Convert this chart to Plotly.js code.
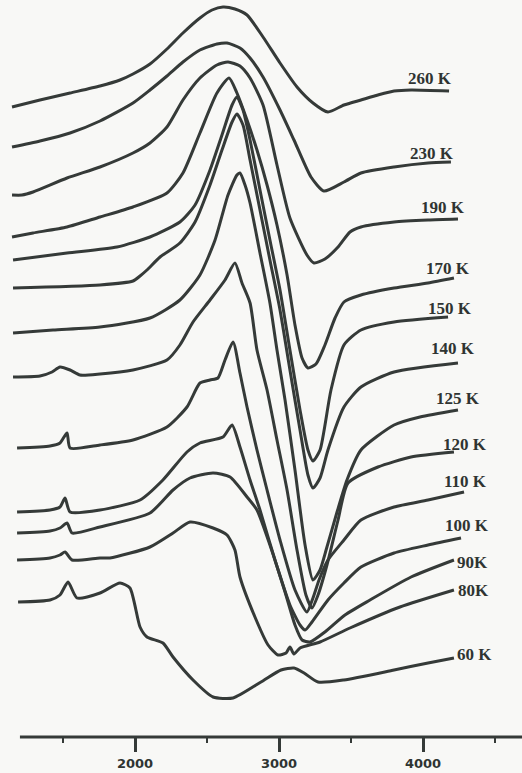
<!DOCTYPE html>
<html>
<head>
<meta charset="utf-8">
<script src="https://cdn.plot.ly/plotly-3.0.1.min.js"></script>
<style>
  html, body { margin: 0; padding: 0; background: #f8f8f6; }
  #chart { width: 522px; height: 773px; }
</style>
</head>
<body>
<div id="chart"></div>
<script>
// Magnetic field (G) and EPR signal (a.u., vertically offset)
const temps = ["260 K", "230 K", "190 K", "170 K", "150 K", "140 K", "125 K", "120 K", "110 K", "100 K", "90K", "80K", "60 K"];

const B260 = [1146,1340,1549,1757,1896,1986,2104,2222,2333,2451,2535,2611,2694,2778,2889,3007,3125,3236,3340,3451,3569,3687,3799,3917,4181];
const S260 = [630,637,644,651,657,663,673,688,704,719,727,730,728,722,700,674,650,634,625,632,637,642,646,647,646];

const B230 = [1146,1340,1549,1757,1986,2104,2222,2333,2451,2569,2639,2729,2799,2889,3007,3104,3222,3312,3451,3569,3799,4035,4194];
const S230 = [590,596,604,616,634,647,661,675,687,693,694,689,679,660,627,597,560,546,555,564,570,574,575];

const B190 = [1146,1215,1292,1528,1757,1986,2104,2222,2333,2451,2569,2646,2729,2799,2889,2986,3076,3194,3243,3319,3410,3493,3569,3799,4035,4243];
const S190 = [542,542,545,559,570,584,594,610,637,659,672,675,671,659,632,572,519,482,474,478,490,505,510,515,517,518];

const B170 = [1146,1292,1528,1757,1986,2222,2333,2451,2569,2653,2708,2778,2847,2917,2986,3056,3111,3160,3201,3257,3319,3389,3451,3569,3799,4035,4215];
const S170 = [500,504,510,520,530,544,564,604,644,659,644,617,587,552,512,462,412,379,369,373,392,419,435,442,449,454,459];

const B150 = [1153,1528,1875,2104,2312,2417,2521,2604,2674,2708,2750,2799,2868,2937,3007,3076,3146,3201,3236,3285,3361,3451,3569,3799,4174];
const S150 = [477,484,490,500,515,532,567,602,632,640,627,597,547,497,447,387,327,287,276,287,347,392,407,415,420];

const B140 = [1153,1757,1986,2035,2083,2174,2312,2417,2521,2604,2674,2708,2750,2799,2868,2937,3007,3076,3146,3201,3236,3285,3340,3451,3569,3799,4243];
const S140 = [449,452,456,461,467,480,494,515,552,587,615,623,612,577,527,477,427,367,307,262,249,259,287,330,350,365,374];

const B125 = [1153,1431,1757,2104,2312,2451,2556,2646,2708,2729,2764,2799,2868,2937,2986,3042,3111,3181,3236,3285,3333,3403,3472,3569,3799,3979,4243];
const S125 = [404,407,410,419,437,462,497,542,562,564,552,534,484,434,387,337,267,192,157,167,190,225,257,287,312,320,327];

const B120 = [1153,1340,1424,1479,1549,1618,1757,1986,2222,2312,2403,2521,2625,2694,2743,2799,2847,2917,2986,3056,3125,3187,3229,3271,3333,3410,3479,3687,3917,4215];
const S120 = [360,361,365,370,367,362,363,367,377,392,415,437,457,474,454,434,387,347,297,247,187,142,129,142,172,217,254,270,280,285];

const B110 = [1181,1410,1479,1528,1549,1757,1986,2222,2361,2451,2521,2576,2625,2681,2729,2778,2847,2917,3007,3111,3194,3236,3278,3340,3451,3569,3799,4035,4285];
const S110 = [289,291,294,304,289,292,297,310,330,354,357,359,377,395,364,330,287,247,197,147,125,139,157,177,197,217,230,237,245];

const B100 = [1181,1410,1479,1514,1549,1757,2035,2194,2361,2451,2611,2674,2729,2799,2868,2972,3076,3146,3181,3229,3340,3451,3569,3799,4035,4264];
const S100 = [225,227,230,239,225,227,237,257,285,294,300,312,290,257,227,177,132,112,107,115,137,154,170,184,192,199];

const B90 = [1181,1410,1479,1528,1563,1757,2104,2264,2382,2542,2660,2778,2847,2937,3042,3111,3160,3215,3319,3458,3632,3917,4215];
const S90 = [204,206,209,214,204,210,224,247,259,264,260,240,227,192,145,112,97,95,105,122,137,160,177];

const B80 = [1181,1410,1479,1514,1563,1757,1826,2104,2264,2382,2542,2639,2694,2729,2833,2924,2993,3049,3076,3104,3146,3285,3493,3840,4215];
const S80 = [177,179,182,185,177,179,179,190,204,215,209,202,187,160,120,92,82,84,90,83,89,95,109,130,147];

const B60 = [1188,1410,1479,1535,1597,1757,1896,1965,2035,2083,2194,2264,2403,2542,2681,2875,3014,3104,3174,3271,3451,3799,4035,4215];
const S60 = [135,137,142,155,139,144,154,149,110,100,94,80,57,40,39,55,67,69,64,55,57,67,74,79];

const fields = [B260, B230, B190, B170, B150, B140, B125, B120, B110, B100, B90, B80, B60];
const signals = [S260, S230, S190, S170, S150, S140, S125, S120, S110, S100, S90, S80, S60];

// label placement (field, signal) next to each curve's right end
const labelB = [4049, 4062, 4139, 4174, 4188, 4208, 4243, 4292, 4292, 4306, 4225, 4229, 4225];
const labelS = [659, 584, 530, 469, 429, 389, 339, 293, 256, 212, 175, 147, 83];
const labelAnchor = ["center","center","center","center","center","center","center","center","center","center","left","left","left"];

const ink = "#353a38";
const traces = fields.map((b, i) => ({
  x: b, y: signals[i], type: "scatter", mode: "lines", name: temps[i],
  line: { color: ink, width: 3, shape: "spline", smoothing: 0.6 },
  hoverinfo: "skip"
}));

const annotations = temps.map((t, i) => ({
  x: labelB[i], y: labelS[i], xref: "x", yref: "y", text: "<b>" + t + "</b>",
  showarrow: false, xanchor: labelAnchor[i], yanchor: "middle",
  font: { family: "Liberation Serif, Times New Roman, serif", size: 17, color: "#2f3432" }
}));

const layout = {
  width: 522, height: 773,
  margin: { l: 0, r: 0, t: 0, b: 36 },
  paper_bgcolor: "#f8f8f6", plot_bgcolor: "#f8f8f6",
  showlegend: false,
  xaxis: {
    range: [1062.5, 4687.5], showgrid: false, zeroline: false, showline: false,
    tickmode: "linear", tick0: 0, dtick: 1000,
    ticks: "outside", ticklen: 14, tickwidth: 3, tickcolor: ink,
    minor: { tick0: 0, dtick: 500, ticks: "outside", ticklen: 5, tickwidth: 2, tickcolor: ink, showgrid: false },
    tickfont: { family: "DejaVu Sans, sans-serif", size: 13, color: "#2f3432", weight: "bold" },
    fixedrange: true
  },
  yaxis: { range: [0, 737], visible: false, fixedrange: true },
  shapes: [{
    type: "line", xref: "x", yref: "paper", x0: 1201, x1: 4700, y0: 0, y1: 0,
    line: { color: ink, width: 3 }
  }],
  annotations: annotations
};

Plotly.newPlot("chart", traces, layout, { displayModeBar: false, staticPlot: true });
</script>
</body>
</html>
